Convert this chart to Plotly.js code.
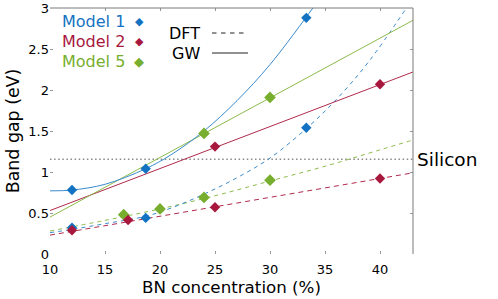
<!DOCTYPE html>
<html>
<head>
<meta charset="utf-8">
<script src="https://cdn.plot.ly/plotly-3.0.1.min.js"></script>
<style>html,body{margin:0;padding:0;background:#fff;}#chart{width:498px;height:299px;}</style>
</head>
<body>
<div id="chart"></div>
<script>
// ---- Data ----
const xTickVals = [10, 15, 20, 25, 30, 35, 40];
const yTickVals = [0, 0.5, 1, 1.5, 2, 2.5, 3];
const siliconGap = 1.155;

// Model 1 (blue)
const m1GwX = [12, 18.7, 33.3];
const m1GwY = [0.78, 1.04, 2.88];
const m1DftX = [12, 18.7, 33.3];
const m1DftY = [0.32, 0.44, 1.54];
const m1GwFitX = [10, 12, 15, 18.7, 21, 24, 27, 30, 33.9];
const m1GwFitY = [0.77, 0.78, 0.85, 1.04, 1.21, 1.5, 1.87, 2.31, 3.0];
const m1DftFitX = [10, 12, 15, 18.7, 21, 24, 27, 30, 33.3, 36, 39, 42.4];
const m1DftFitY = [0.26, 0.30, 0.37, 0.46, 0.56, 0.73, 0.93, 1.17, 1.53, 1.88, 2.35, 3.0];

// Model 2 (red)
const m2GwX = [25, 40];
const m2GwY = [1.31, 2.07];
const m2DftX = [12, 17.1, 25, 40];
const m2DftY = [0.29, 0.415, 0.57, 0.92];
const m2GwFitX = [10, 43];
const m2GwFitY = [0.53, 2.22];
const m2DftFitX = [10, 43];
const m2DftFitY = [0.23, 0.99];

// Model 5 (green)
const m5GwX = [24, 30];
const m5GwY = [1.47, 1.91];
const m5DftX = [16.7, 20, 24, 30];
const m5DftY = [0.48, 0.55, 0.69, 0.9];
const m5GwFitX = [10, 43];
const m5GwFitY = [0.45, 2.85];
const m5DftFitX = [10, 15, 20, 25, 30, 35, 40, 43];
const m5DftFitY = [0.28, 0.41, 0.55, 0.71, 0.89, 1.07, 1.27, 1.39];

const siliconX = [10, 43];

// ---- Styles ----
const C1 = '#1373c2', C2 = '#a8183e', C5 = '#78ae2e';
const L1 = '#3a8bcc', L2 = '#b02a4c', L5 = '#8cbb4a';
const dashed = '4px,4px';

function fit(x, y, color, dash) {
  return {x: x, y: y, mode: 'lines', type: 'scatter', hoverinfo: 'skip',
    line: {color: color, width: 1, dash: dash || 'solid', shape: 'spline', smoothing: 1}};
}
function pts(x, y, color, size) {
  return {x: x, y: y, mode: 'markers', type: 'scatter',
    marker: {symbol: 'diamond', size: size, color: color, line: {width: 0}}};
}

const traces = [
  {x: siliconX, y: [siliconGap, siliconGap], mode: 'lines', type: 'scatter',
   line: {color: '#8a8a8a', width: 1.5, dash: '1.5px,2.6px'}},
  fit(m2DftFitX, m2DftFitY, L2, '5px,4px'),
  fit(m5DftFitX, m5DftFitY, L5, dashed),
  fit(m1DftFitX, m1DftFitY, L1, dashed),
  fit(m2GwFitX, m2GwFitY, L2),
  fit(m5GwFitX, m5GwFitY, L5),
  fit(m1GwFitX, m1GwFitY, L1),
  pts(m1DftX, m1DftY, C1, 8),
  pts(m5DftX, m5DftY, C5, 9),
  pts(m2DftX, m2DftY, C2, 8),
  pts(m1GwX, m1GwY, C1, 8),
  pts(m5GwX, m5GwY, C5, 9),
  pts(m2GwX, m2GwY, C2, 8)
];

const FONT = 'DejaVu Sans, sans-serif';
function px2x(p) { return (p - 50) / 363; }
function px2y(p) { return (254 - p) / 246; }

const annotations = [
  {text: 'Model 1', font: {color: C1, size: 16, family: FONT}, xanchor: 'right'},
  {text: 'Model 2', font: {color: C2, size: 16, family: FONT}, xanchor: 'right'},
  {text: 'Model 5', font: {color: C5, size: 16, family: FONT}, xanchor: 'right'},
].map((a, i) => Object.assign(a, {xref: 'paper', yref: 'paper', x: px2x(127), y: px2y(22 + 20 * i),
  yanchor: 'middle', showarrow: false}));

[[C1, 11], [C2, 11], [C5, 13]].forEach((c, i) => annotations.push({
  text: '\u25C6', font: {color: c[0], size: c[1], family: FONT}, xref: 'paper', yref: 'paper',
  x: px2x(139), y: px2y(22 + 20 * i), xanchor: 'center', yanchor: 'middle', showarrow: false}));

annotations.push(
  {text: 'DFT', font: {color: '#000', size: 16, family: FONT}, xref: 'paper', yref: 'paper',
   x: px2x(202), y: px2y(33), xanchor: 'right', yanchor: 'middle', showarrow: false},
  {text: 'GW', font: {color: '#000', size: 16, family: FONT}, xref: 'paper', yref: 'paper',
   x: px2x(202), y: px2y(53), xanchor: 'right', yanchor: 'middle', showarrow: false},
  {text: 'Silicon', font: {color: '#000', size: 18.5, family: FONT}, xref: 'paper', yref: 'y',
   x: px2x(415), y: siliconGap, xanchor: 'left', yanchor: 'middle', showarrow: false}
);

const shapes = [
  {type: 'line', xref: 'paper', yref: 'paper', x0: 0, x1: 1, y0: 1, y1: 1, line: {color: '#7a7a7a', width: 1}},
  {type: 'line', xref: 'paper', yref: 'paper', x0: 1, x1: 1, y0: 0, y1: 1, line: {color: '#7a7a7a', width: 1}},
  {type: 'line', xref: 'paper', yref: 'paper', x0: px2x(212), x1: px2x(248), y0: px2y(33), y1: px2y(33),
   line: {color: '#222', width: 1, dash: '4.5px,4.5px'}},
  {type: 'line', xref: 'paper', yref: 'paper', x0: px2x(212), x1: px2x(248), y0: px2y(53), y1: px2y(53),
   line: {color: '#222', width: 1}}
];

const layout = {
  width: 498, height: 299,
  margin: {l: 50, r: 85, t: 8, b: 45, pad: 0},
  paper_bgcolor: '#fff', plot_bgcolor: '#fff',
  showlegend: false,
  font: {family: FONT, color: '#000', size: 13},
  xaxis: {range: [10, 43], tickvals: xTickVals, ticks: 'inside', ticklen: 3, tickcolor: '#999',
    mirror: 'ticks', showline: false, showgrid: false, zeroline: false,
    tickfont: {size: 13, family: FONT}, ticklabelstandoff: 6,
    title: {text: 'BN concentration (%)', font: {size: 16.7, family: FONT}, standoff: 2}},
  yaxis: {range: [0, 3], tickvals: yTickVals, ticktext: ['0', '0.5', '1', '1.5', '2', '2.5', '3'],
    ticks: 'inside', ticklen: 3, tickcolor: '#999',
    mirror: 'ticks', showline: false, showgrid: false, zeroline: false,
    tickfont: {size: 13, family: FONT},
    title: {text: 'Band gap (eV)', font: {size: 17.4, family: FONT}, standoff: 4}},
  annotations: annotations,
  shapes: shapes
};

Plotly.newPlot('chart', traces, layout, {staticPlot: true, displayModeBar: false});
</script>
</body>
</html>
